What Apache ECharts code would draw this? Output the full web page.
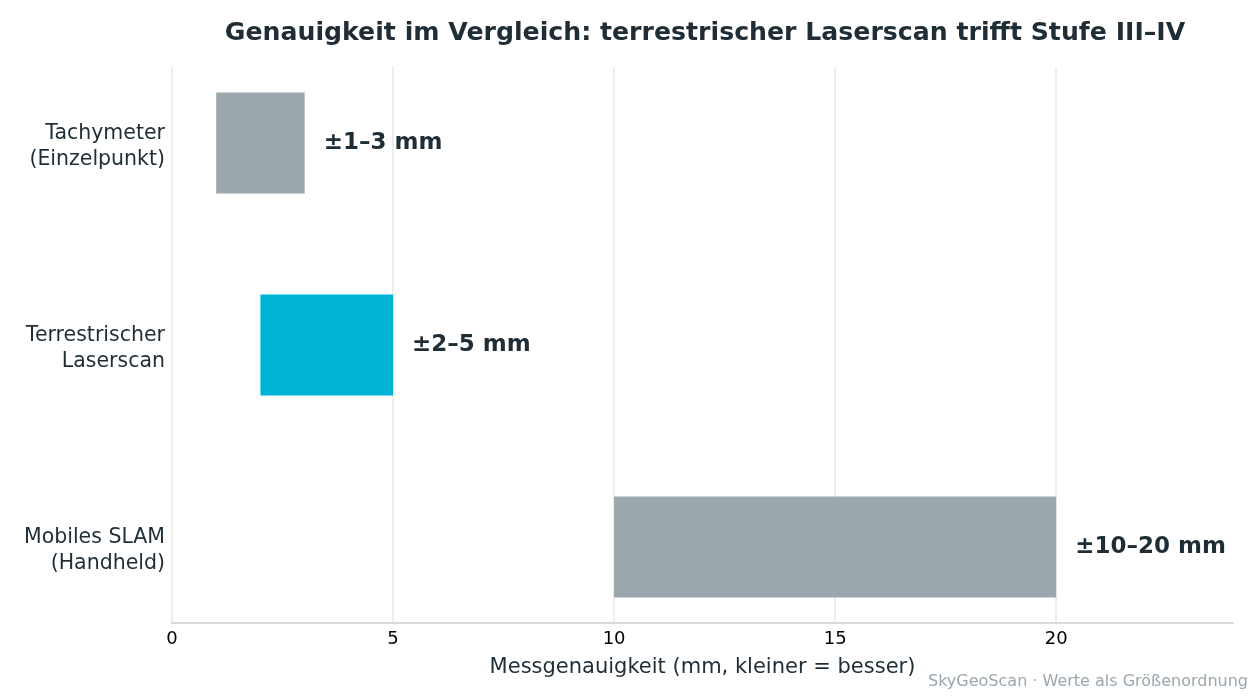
<!DOCTYPE html>
<html>
<head>
<meta charset="utf-8">
<script src="https://cdn.jsdelivr.net/npm/echarts@6/dist/echarts.min.js"></script>
<style>
  html, body { margin: 0; padding: 0; background: #fff; }
  #chart { width: 1260px; height: 700px; }
</style>
</head>
<body>
<div id="chart"></div>
<script>
// Messverfahren und Genauigkeitsbereiche (mm)
var categories = ['Tachymeter\n(Einzelpunkt)', 'Terrestrischer\nLaserscan', 'Mobiles SLAM\n(Handheld)'];
var rangeStart = [1, 2, 10];
var rangeEnd = [3, 5, 20];
var rangeLabels = ['±1–3 mm', '±2–5 mm', '±10–20 mm'];
var barColors = ['#9ba7ad', '#00b4d8', '#9ba7ad'];
var xMax = 24;
var xStep = 5;

var FONT = 'DejaVu Sans';
var GRID_LINE = '#e6e8e9';
var DARK = '#1f2d36';

function buildOption() {
    var baseData = rangeStart.slice();
    var spanData = rangeEnd.map(function (v, i) {
        return {
            value: v - rangeStart[i],
            itemStyle: { color: barColors[i] }
        };
    });

    var catStyle = { fontFamily: FONT, fontSize: 20.5, color: DARK, lineHeight: 26, align: 'right' };

    return {
        animation: false,
        backgroundColor: '#ffffff',
        title: {
            text: 'Genauigkeit im Vergleich: terrestrischer Laserscan trifft Stufe III–IV',
            left: 700,
            textAlign: 'center',
            top: 16,
            textStyle: { fontFamily: FONT, fontSize: 25.2, fontWeight: 'bold', color: DARK }
        },
        // grid 0: sichtbare Achse und Gitterlinien, grid 1: Balken mit etwas mehr Rand (wie matplotlib)
        grid: [
            { left: 172, right: 27, top: 67, bottom: 77 },
            { left: 172, right: 27, top: 42, bottom: 52 }
        ],
        xAxis: [
            {
                gridIndex: 0,
                type: 'value',
                min: 0,
                max: xMax,
                interval: xStep,
                name: 'Messgenauigkeit (mm, kleiner = besser)',
                nameLocation: 'middle',
                nameGap: 34,
                nameTextStyle: { fontFamily: FONT, fontSize: 21, color: DARK },
                axisLine: { show: true, lineStyle: { color: '#d5dadd', width: 2 } },
                axisTick: { show: false },
                axisLabel: {
                    fontFamily: FONT, fontSize: 18, color: '#000', margin: 7,
                    showMaxLabel: false,
                    formatter: function (v) { return v % xStep === 0 ? String(v) : ''; }
                },
                splitLine: {
                    show: true,
                    lineStyle: {
                        color: [GRID_LINE, GRID_LINE, GRID_LINE, GRID_LINE, GRID_LINE, 'rgba(0,0,0,0)'],
                        width: 1.5
                    }
                }
            },
            {
                gridIndex: 1,
                type: 'value',
                min: 0,
                max: xMax,
                show: false
            }
        ],
        yAxis: [
            {
                gridIndex: 0,
                type: 'value',
                show: false
            },
            {
                gridIndex: 1,
                type: 'category',
                data: categories,
                inverse: true,
                axisLine: { show: false },
                axisTick: { show: false },
                axisLabel: {
                    fontFamily: FONT, fontSize: 20.5, color: DARK, margin: 7,
                    lineHeight: 26, align: 'right',
                    formatter: function (v) {
                        var lines = v.split('\n');
                        return lines.map(function (s, i) {
                            return (i === 0 ? '{f|' : '{n|') + s + '}';
                        }).join('\n');
                    },
                    rich: {
                        f: Object.assign({ padding: [8, 0, 0, 0] }, catStyle),
                        n: Object.assign({ padding: [8, 0, 0, 0] }, catStyle)
                    }
                }
            }
        ],
        series: [
            {
                name: 'Basis',
                type: 'bar',
                xAxisIndex: 1,
                yAxisIndex: 1,
                stack: 'range',
                barWidth: '50%',
                itemStyle: { color: 'rgba(0,0,0,0)' },
                emphasis: { disabled: true },
                data: baseData
            },
            {
                name: 'Bereich',
                type: 'bar',
                xAxisIndex: 1,
                yAxisIndex: 1,
                stack: 'range',
                barWidth: '50%',
                data: spanData,
                label: {
                    show: true,
                    position: 'right',
                    distance: 19,
                    fontFamily: FONT,
                    fontSize: 23,
                    fontWeight: 'bold',
                    color: DARK,
                    formatter: function (p) { return rangeLabels[p.dataIndex]; }
                }
            }
        ],
        graphic: [{
            type: 'text',
            right: 12,
            top: 674,
            style: {
                text: 'SkyGeoScan · Werte als Größenordnung',
                fontFamily: FONT,
                fontSize: 16,
                fill: '#9ba7ad'
            }
        }]
    };
}

var myChart = echarts.init(document.getElementById('chart'), null, { renderer: 'canvas' });
myChart.setOption(buildOption());
</script>
</body>
</html>
